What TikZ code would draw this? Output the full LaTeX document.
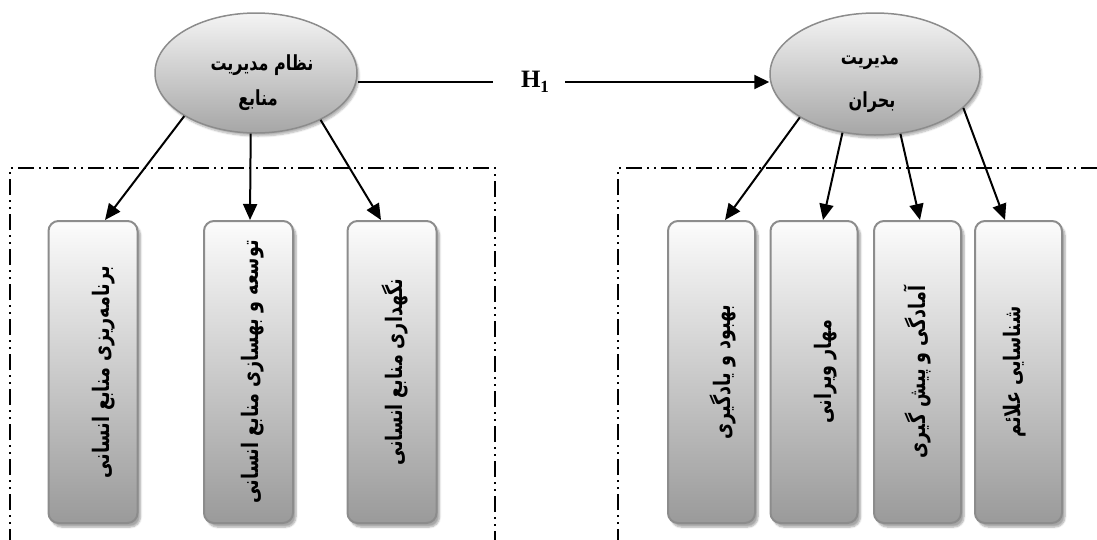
\documentclass[tikz,border=0pt]{standalone}
\usepackage{fontspec}
\setmainfont{Liberation Serif}
\newfontfamily\arabicfont[Script=Arabic]{DejaVu Sans}
\TeXXeTstate=1
\usetikzlibrary{shapes.geometric,arrows.meta,shadows.blur}

\definecolor{bordergray}{HTML}{8C8C8C}
\definecolor{boxtop}{HTML}{FCFCFC}
\definecolor{boxbot}{HTML}{9A9A9A}
\definecolor{elltop}{HTML}{F4F4F4}
\definecolor{ellbot}{HTML}{A6A6A6}

\newcommand{\fatall}[1]{\scalebox{1}[1.3]{#1}}
\newcommand{\vtext}[2]{\hspace*{#1}\rotatebox{90}{\scalebox{1}[1.3]{\arabicfont\bfseries\fontsize{17.5}{20}\selectfont #2}}}

\begin{document}
\begin{tikzpicture}[x=1pt,y=-1pt,
  ell/.style={ellipse, draw=bordergray, line width=1.5pt, top color=elltop, bottom color=ellbot,
    inner sep=0pt, minimum width=202pt, minimum height=120pt,
    blur shadow={shadow xshift=2pt, shadow yshift=-3pt, shadow opacity=30, shadow blur steps=6}},
  etext/.style={font=\arabicfont\bfseries\fontsize{16}{18}\selectfont, inner sep=0pt},
  box/.style={rectangle, rounded corners=10pt, draw=bordergray, line width=2pt,
    top color=boxtop, bottom color=boxbot, minimum width=89pt, minimum height=302pt, inner sep=0pt,
    blur shadow={shadow xshift=3pt, shadow yshift=-4pt, shadow opacity=35, shadow blur steps=6}},
  arr/.style={line width=2pt, -{Triangle[length=16pt,width=14pt]}},
  harr/.style={line width=2pt, -{Triangle[length=15pt,width=14pt]}},
  dashdd/.style={line width=1.3pt, dash pattern=on 16pt off 5pt on 2pt off 5pt on 2pt off 5pt},
  hnode/.style={font=\bfseries\fontsize{25}{25}\selectfont, inner sep=0pt, minimum width=72pt, minimum height=30pt}
]
\useasboundingbox (0,0) rectangle (1097,539);

% dash-dot-dot frames
\draw[dashdd] (10,545) -- (10,168) -- (495,168) -- (495,545);
\draw[dashdd] (618,545) -- (618,168) -- (1105,168);

% ellipses
\node[ell] (L) at (256,73) {};
\node[ell, minimum width=210pt, minimum height=122pt] (R) at (875,74) {};
\node[etext] (L1) at (262,65) {\fatall{\beginR نظام مدیریت\endR}};
\node[etext] (L2) at (258,100) {\fatall{\beginR منابع\endR}};
\node[etext] (R1) at (870,63) {\fatall{\beginR مدیریت\endR}};
\node[etext] (R2) at (872,102) {\fatall{\beginR بحران\endR}};

% boxes left
\node[box] (lb1) at (93,372) {\vtext{22pt}{\beginR برنامه‌ریزی منابع انسانی\endR}};
\node[box] (lb2) at (248.5,372) {\vtext{8pt}{\beginR توسعه و بهسازی منابع انسانی\endR}};
\node[box] (lb3) at (392,372) {\vtext{6pt}{\beginR نگهداری منابع انسانی\endR}};

% boxes right
\node[box, minimum width=87pt] (rb1) at (711.5,372) {\vtext{22pt}{\beginR بهبود و یادگیری\endR}};
\node[box, minimum width=87pt] (rb2) at (814,372) {\vtext{24pt}{\beginR مهار ویرانی\endR}};
\node[box, minimum width=87pt] (rb3) at (917.5,372) {\vtext{0pt}{\beginR آمادگی و پیش گیری\endR}};
\node[box, minimum width=87pt] (rb4) at (1018.5,372) {\vtext{-8pt}{\beginR شناسایی علائم\endR}};

% arrows
\draw[arr] (L.211) -- ([xshift=12pt]lb1.north);
\draw[arr] (L.265) -- ([xshift=1.5pt]lb2.north);
\draw[arr] (L.324) -- ([xshift=-11pt]lb3.north);
\draw[arr] (R.210) -- ([xshift=13.5pt]rb1.north);
\draw[arr] (R.241) -- ([xshift=9pt]rb2.north);
\draw[arr] (R.293) -- ([xshift=2.5pt]rb3.north);
\draw[arr] (R.339) -- ([xshift=-13.5pt]rb4.north);

% H1
\node[hnode] (H) at (529,82) {\hspace*{12pt}H\raisebox{-5pt}{\fontsize{17}{17}\selectfont 1}};
\draw[line width=1.3pt] (L.east |- H.west) -- (H.west);
\draw[harr] (H.east) -- (H.east -| R.west);
\end{tikzpicture}
\end{document}
